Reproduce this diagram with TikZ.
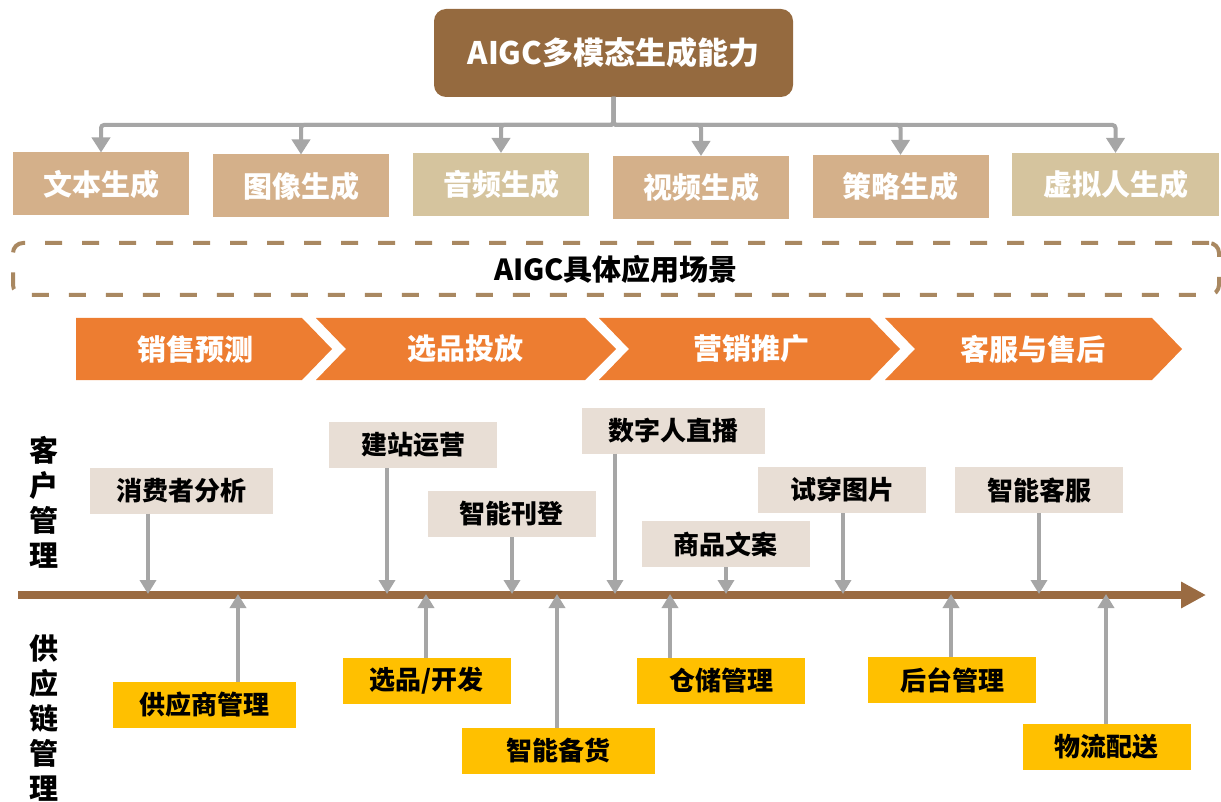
\documentclass[tikz,border=0pt]{standalone}
\usepackage{fontspec}
\setmainfont{Noto Sans CJK SC}
\usetikzlibrary{arrows.meta,calc}
\definecolor{topbrown}{HTML}{956A3F}
\definecolor{tanA}{HTML}{D4B08A}
\definecolor{tanB}{HTML}{D5C49E}
\definecolor{dashbrown}{HTML}{A98861}
\definecolor{chevorange}{HTML}{ED7D31}
\definecolor{ubeige}{HTML}{E8DED5}
\definecolor{lyellow}{HTML}{FFC000}
\definecolor{arrgray}{HTML}{A6A6A6}
\definecolor{linebrown}{HTML}{9A6B42}
\tikzset{
  txtbase/.style={inner sep=0pt, outer sep=0pt, font=\bfseries},
  topbox/.style={txtbase, fill=topbrown, rounded corners=12pt, text=white,
    minimum width=359pt, minimum height=88pt, font=\bfseries\fontsize{31}{36}\selectfont},
  genbox/.style={txtbase, minimum width=176pt, minimum height=63pt, text=white,
    font=\bfseries\fontsize{29}{34}\selectfont},
  dashbox/.style={txtbase, draw=dashbrown, line width=4pt, dash pattern=on 17pt off 20pt,
    rounded corners=10pt, minimum width=1206pt, minimum height=52pt,
    font=\bfseries\fontsize{29}{34}\selectfont},
  chev/.style={fill=chevorange},
  chevtext/.style={txtbase, text=white, font=\bfseries\fontsize{29}{34}\selectfont},
  ubox/.style={txtbase, fill=ubeige, minimum height=46pt, minimum width=168pt,
    font=\bfseries\fontsize{26}{30}\selectfont},
  lbox/.style={txtbase, fill=lyellow, minimum height=46pt, minimum width=168pt,
    font=\bfseries\fontsize{26}{30}\selectfont},
  vlabel/.style={txtbase, align=center, font=\bfseries\fontsize{29}{35}\selectfont},
  harrow/.style={draw=arrgray, line width=4pt, rounded corners=3pt,
    -{Triangle[width=18pt,length=15pt]}},
  garrow/.style={draw=arrgray, line width=4.5pt, -{Triangle[width=16pt,length=14pt]}},
  tline/.style={draw=linebrown, line width=8pt, -{Triangle[width=25pt,length=25pt]}},
}
\begin{document}
\begin{tikzpicture}[x=1pt,y=-1pt]
\useasboundingbox (0,0) rectangle (1221,802);

% top
\node[topbox] (top) at (613.5,53) {AIGC多模态生成能力};
\node[genbox, fill=tanA] (b1) at (101,184) {文本生成};
\node[genbox, fill=tanA] (b2) at (301,186) {图像生成};
\node[genbox, fill=tanB] (b3) at (501,184.5) {音频生成};
\node[genbox, fill=tanA] (b4) at (701,187.5) {视频生成};
\node[genbox, fill=tanA] (b5) at (900.5,186.5) {策略生成};
\node[genbox, fill=tanB, minimum width=207pt] (b6) at (1115.5,184.5) {虚拟人生成};
\coordinate (hub) at (613.5,125);
\foreach \b in {b1,b2,b3,b4,b5,b6}
  \draw[harrow] (top.south) -- (hub) -| (\b.north);

% scenarios
\node[dashbox] (scen) at (616,269) {AIGC具体应用场景};

\fill[chev] (76,318) -- (302,318) -- (332,349) -- (302,380) -- (76,380) -- cycle;
\fill[chev] (316,318) -- (585,318) -- (616,349) -- (585,380) -- (316,380) -- (346,349) -- cycle;
\fill[chev] (599,318) -- (870,318) -- (900,349) -- (870,380) -- (599,380) -- (629,349) -- cycle;
\fill[chev] (885,318) -- (1152,318) -- (1182,349) -- (1152,380) -- (885,380) -- (915,349) -- cycle;
\node[chevtext] (s1) at (195,349) {销售预测};
\node[chevtext] (s2) at (465.5,349) {选品投放};
\node[chevtext] (s3) at (751,349) {营销推广};
\node[chevtext] (s4) at (1033,349) {客服与售后};

% side labels
\node[vlabel] (cm) at (44,502) {客\\户\\管\\理};
\node[vlabel] (scm) at (44,718) {供\\应\\链\\管\\理};

% timeline
\coordinate (t0) at (18,595);
\coordinate (tend) at (1206,595);
\draw[tline] (t0) -- (tend);

% upper boxes
\node[ubox, minimum width=183pt] (u1) at (181.5,490.5) {消费者分析};
\node[ubox] (u2) at (413,445) {建站运营};
\node[ubox] (u3) at (511.5,514) {智能刊登};
\node[ubox, minimum width=183pt] (u4) at (673.5,430.5) {数字人直播};
\node[ubox] (u5) at (725.5,544) {商品文案};
\node[ubox] (u6) at (842,490) {试穿图片};
\node[ubox] (u7) at (1039,490) {智能客服};

\coordinate (pu1) at (148,594);
\coordinate (pu2) at (387,594);
\coordinate (pu3) at (512,594);
\coordinate (pu4) at (615,594);
\coordinate (pu5) at (726,594);
\coordinate (pu6) at (843,594);
\coordinate (pu7) at (1039,594);
\foreach \i in {1,...,7}
  \draw[garrow] (u\i.south -| pu\i) -- (pu\i);

% lower boxes
\node[lbox, minimum width=183pt] (l1) at (204.5,705) {供应商管理};
\node[lbox] (l2) at (426.5,680.5) {选品/开发};
\node[lbox, minimum width=193pt] (l3) at (558.5,750.5) {智能备货};
\node[lbox] (l4) at (721,680.5) {仓储管理};
\node[lbox] (l5) at (952,680) {后台管理};
\node[lbox] (l6) at (1106.5,746.5) {物流配送};

\coordinate (pl1) at (238,594);
\coordinate (pl2) at (426,594);
\coordinate (pl3) at (557,594);
\coordinate (pl4) at (670,594);
\coordinate (pl5) at (951,594);
\coordinate (pl6) at (1106,594);
\foreach \i in {1,...,6}
  \draw[garrow] (l\i.north -| pl\i) -- (pl\i);
\end{tikzpicture}
\end{document}
